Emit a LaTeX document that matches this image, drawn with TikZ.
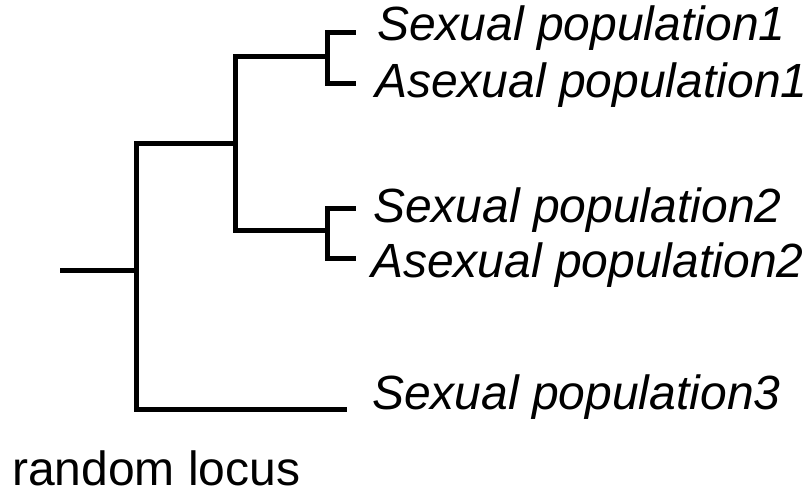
\documentclass[tikz,border=0pt]{standalone}
\usepackage{fontspec}
\setmainfont{Liberation Sans}
\begin{document}
\begin{tikzpicture}[x=1pt,y=-1pt,
  branch/.style={line width=5pt,line cap=rect,line join=miter},
  taxon/.style={anchor=base west,inner sep=0pt,font=\fontsize{48}{56}\selectfont\itshape},
  locus/.style={anchor=base west,inner sep=0pt,font=\fontsize{48}{56}\selectfont}]
\useasboundingbox (0,0) rectangle (809,493);
% internal nodes of the tree
\coordinate (root) at (62,270);
\coordinate (r)  at (136,270);
\coordinate (ra) at (136,143);
\coordinate (rb) at (136,409);
\coordinate (c)  at (235,143);
\coordinate (ca) at (235,56);
\coordinate (cb) at (235,230);
\coordinate (p1) at (327,56);
\coordinate (p1a) at (327,32);
\coordinate (p1b) at (327,83);
\coordinate (p2) at (327,230);
\coordinate (p2a) at (327,208);
\coordinate (p2b) at (327,258);
% tips
\coordinate (t1) at (353,32);
\coordinate (t2) at (353,83);
\coordinate (t3) at (353,208);
\coordinate (t4) at (353,258);
\coordinate (t5) at (344,409);
% taxon labels
\node[taxon] (s1) at (377,40) {Sexual population1};
\node[taxon] (a1) at (375,97) {Asexual population1};
\node[taxon] (s2) at (373,222) {Sexual population2};
\node[taxon] (a2) at (371,277) {Asexual population2};
\node[taxon] (s3) at (372,409) {Sexual population3};
\node[locus] (rl) at (12,485) {random locus};
% branches
\draw[branch] (root) -- (r);
\draw[branch] (rb) -- (ra) -- (c);
\draw[branch] (rb) -- (t5);
\draw[branch] (cb) -- (ca) -- (p1);
\draw[branch] (cb) -- (p2);
\draw[branch] (t1) -- (p1a) -- (p1b) -- (t2);
\draw[branch] (t3) -- (p2a) -- (p2b) -- (t4);
\end{tikzpicture}
\end{document}
